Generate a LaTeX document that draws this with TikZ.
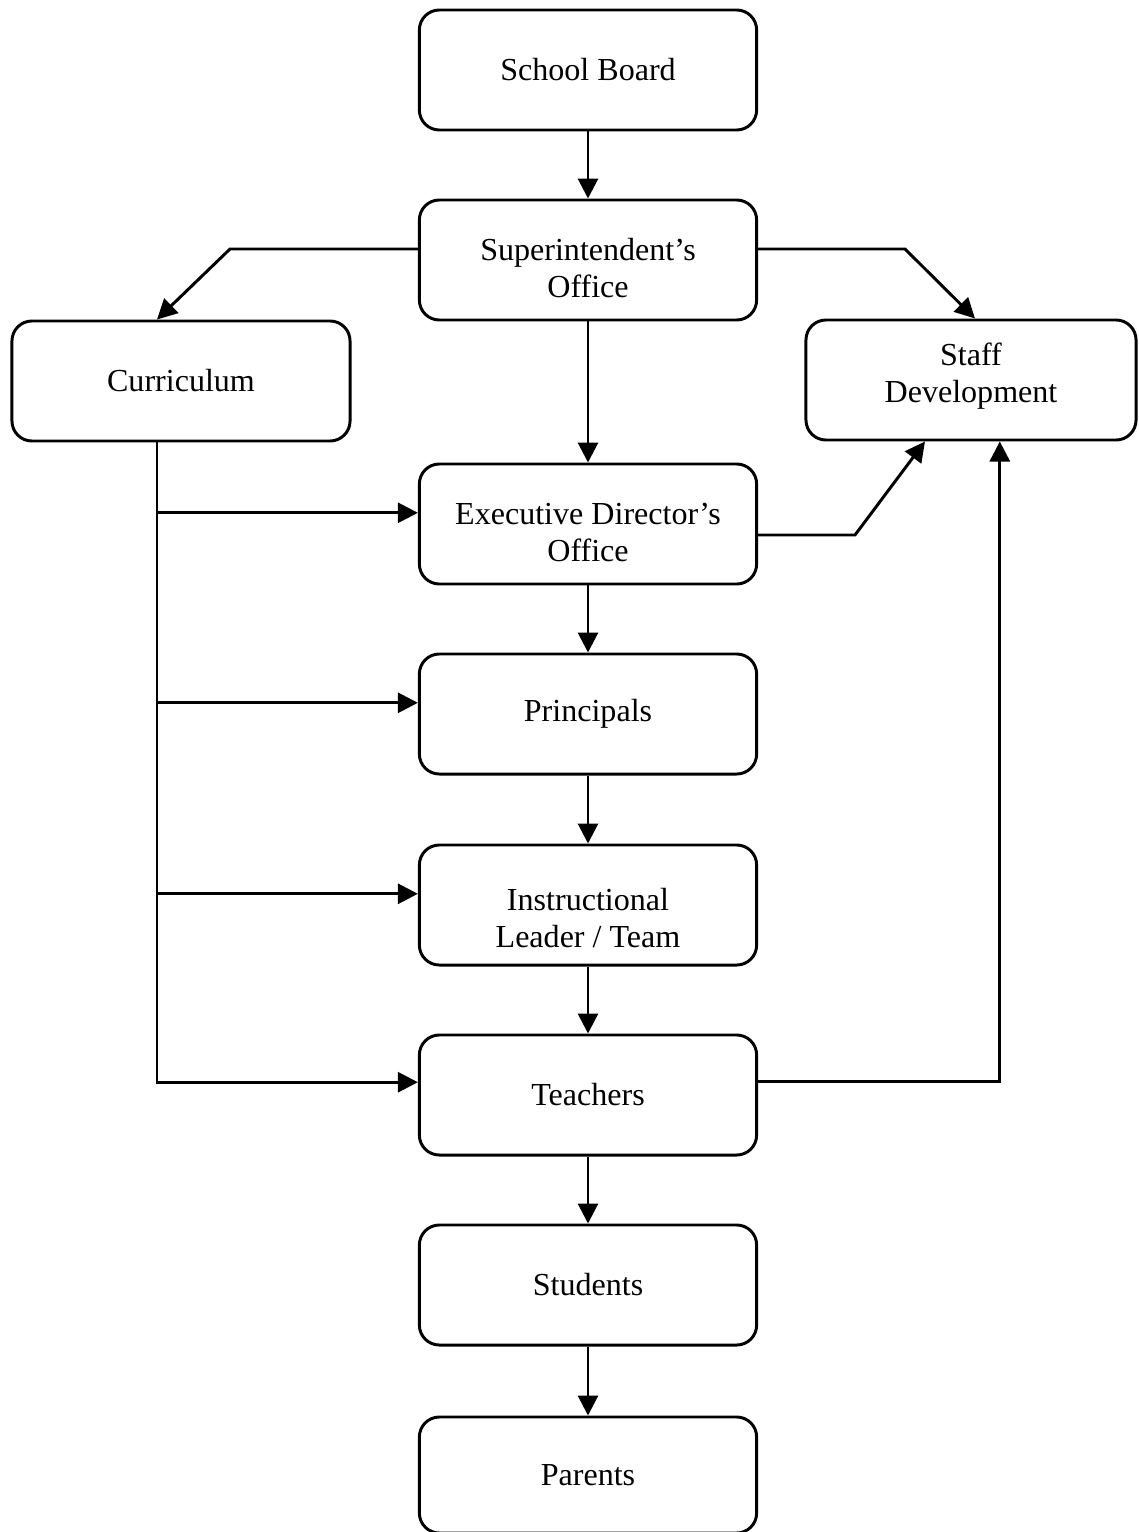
\documentclass[tikz,border=0pt]{standalone}
\usepackage{fontspec}
\setmainfont{Liberation Serif}
\usetikzlibrary{arrows.meta}

\def\boxwd{8.43cm}
\def\boxht{3cm}

\begin{document}
\begin{tikzpicture}[x=0.025cm, y=-0.025cm, line width=2.1pt]
    \tikzstyle{unit}=[draw, rounded corners=0.5cm, minimum width=\boxwd, minimum height=\boxht,
        align=center, font=\fontsize{22.8}{26.2}\selectfont, inner sep=0pt]
    \tikzstyle{lowtext}=[text height=#1, text depth=0pt]
    \tikzstyle{arr}=[-{Triangle[length=0.5cm, width=0.5cm]}]

    \useasboundingbox (0,0) rectangle (1138,1532);

    % Draw the main column of offices
    \node[unit] (board) at (588,70) {School Board};
    \node[unit, lowtext=53.2pt] (super) at (588,260) {Superintendent's\\Office};
    \node[unit, lowtext=53.2pt] (exec) at (588,524) {Executive Director's\\Office};
    \node[unit] (princ) at (588,714) {Principals};
    \node[unit, lowtext=60.3pt] (instr) at (588,905) {Instructional\\Leader / Team};
    \node[unit] (teach) at (588,1095) {Teachers};
    \node[unit] (stud) at (588,1285) {Students};
    \node[unit, minimum height=2.9cm] (par) at (588,1475) {Parents};

    % Draw the two side units
    \node[unit, minimum width=8.45cm] (curr) at (181,381) {Curriculum};
    \node[unit, minimum width=8.25cm, text depth=10.5pt] (staff) at (971,380) {Staff\\Development};

    % Connect the column from top to bottom
    \draw[arr] (board) -- (super);
    \draw[arr] (super) -- (exec);
    \foreach \source/\dest in {exec/princ, princ/instr, instr/teach, teach/stud, stud/par}
        \draw[arr] (\source) -- (\dest);

    % Superintendent's office out to both side units
    \coordinate (sl) at (230,249);
    \coordinate (sr) at (905,249);
    \draw[arr] (super.west |- sl) -- (sl) -- ([xshift=-0.6cm]curr.north);
    \draw[arr] (super.east |- sr) -- (sr) -- ([xshift=0.1cm]staff.north);

    % Curriculum feeds every level down to the teachers
    \coordinate (trunk) at ([xshift=-0.6cm]curr.south);
    \draw[arr] (trunk) |- ([yshift=0.32cm]teach.west);
    \foreach \dest in {exec, princ, instr} {
        \coordinate (\dest-in) at ([yshift=0.28cm]\dest.west);
        \draw[arr] (trunk |- \dest-in) -- (\dest-in);
    }

    % Back up to staff development
    \coordinate (el) at (855,535);
    \draw[arr] (exec.east |- el) -- (el) -- ([xshift=-1.15cm]staff.south);
    \draw[arr] ([yshift=0.34cm]teach.east) -| ([xshift=0.72cm]staff.south);
\end{tikzpicture}
\end{document}
